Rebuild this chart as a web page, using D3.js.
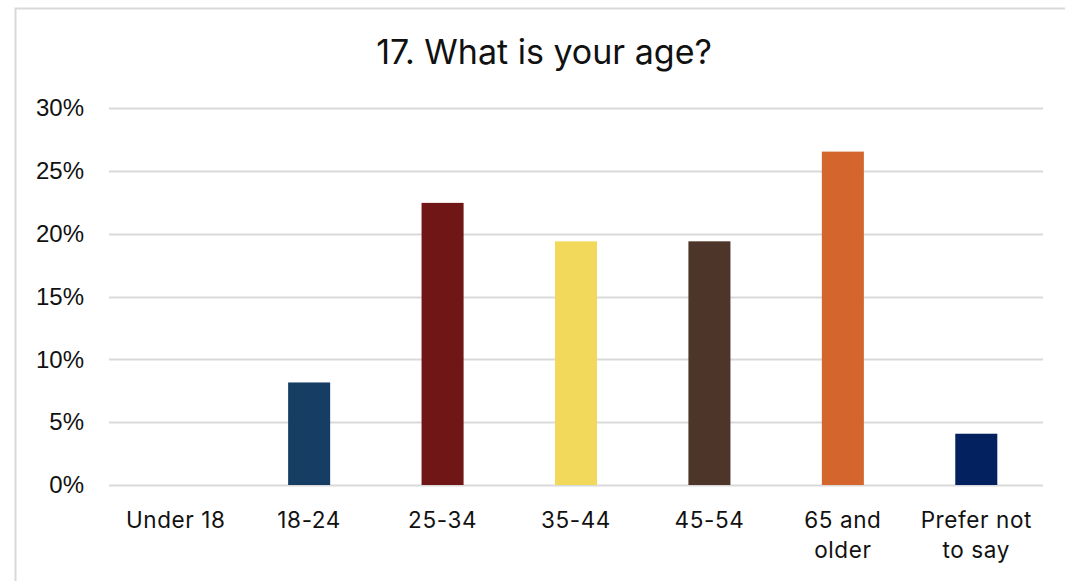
<!DOCTYPE html>
<html>
<head>
<meta charset="utf-8">
<script src="https://cdn.jsdelivr.net/npm/d3@7"></script>
<style>
html,body{margin:0;padding:0;background:#fff;}
svg{display:block;}
text{font-family:"Inter","Noto Sans",sans-serif;fill:#111;}
</style>
</head>
<body>
<svg id="chart" width="1065" height="581"></svg>
<script>
const categories = ["Under 18", "18-24", "25-34", "35-44", "45-54", "65 and\nolder", "Prefer not\nto say"];
const values = [0, 0.0816, 0.2245, 0.1939, 0.1939, 0.2653, 0.0408];
const colors = ["#163e64", "#163e64", "#701616", "#f2d95c", "#4e3529", "#d4662d", "#04215f"];
const yTicks = [0, 0.05, 0.10, 0.15, 0.20, 0.25, 0.30];
const title = "17. What is your age?";

const svg = d3.select("#chart");
const W = 1065, H = 581;
const m = {left: 109, right: 22, top: 108, bottom: 96};

// outer chart border
svg.append("rect").attr("x", 15.5).attr("y", 8.5).attr("width", W + 10).attr("height", H + 10)
  .attr("fill", "none").attr("stroke", "#d9d9d9").attr("stroke-width", 2);

const x = d3.scaleBand().domain(categories).range([m.left, W - m.right]).paddingInner(0.685).paddingOuter(0.3425);
const y = d3.scaleLinear().domain([0, 0.30]).range([H - m.bottom, m.top]);

// gridlines
svg.append("g").selectAll("line").data(yTicks).join("line")
  .attr("x1", m.left).attr("x2", W - m.right)
  .attr("y1", d => Math.round(y(d)) + 0.5).attr("y2", d => Math.round(y(d)) + 0.5)
  .attr("stroke", "#d9d9d9").attr("stroke-width", 2);

// y axis labels
const yAxis = d3.axisLeft(y).tickValues(yTicks).tickFormat(d3.format(".0%")).tickSize(0).tickPadding(0);
const gy = svg.append("g").attr("transform", `translate(84,0)`).call(yAxis);
gy.select(".domain").remove();
gy.selectAll("text").attr("font-size", 24).attr("fill", "#111")
  .style("font-family", '"Liberation Sans","Arial",sans-serif');

// bars
svg.append("g").selectAll("rect").data(values).join("rect")
  .attr("x", (d, i) => x(categories[i]))
  .attr("width", x.bandwidth())
  .attr("y", d => y(d))
  .attr("height", d => y(0) - y(d))
  .attr("fill", (d, i) => colors[i]);

// x axis labels
const xAxis = d3.axisBottom(x).tickSize(0).tickPadding(0).tickFormat(() => "");
const gx = svg.append("g").attr("transform", `translate(0,${y(0)})`).call(xAxis);
gx.select(".domain").remove();
gx.selectAll(".tick").each(function(d) {
  const t = d3.select(this).append("text").attr("text-anchor", "middle")
    .attr("font-size", 22.5).attr("letter-spacing", 0.6).attr("fill", "#111");
  d.split("\n").forEach((line, i) => {
    t.append("tspan").attr("x", 0).attr("y", 42.5 + i * 30.5).text(line);
  });
});

// title
svg.append("text").attr("x", 544).attr("y", 64).attr("text-anchor", "middle")
  .attr("font-size", 34).text(title);
</script>
</body>
</html>
